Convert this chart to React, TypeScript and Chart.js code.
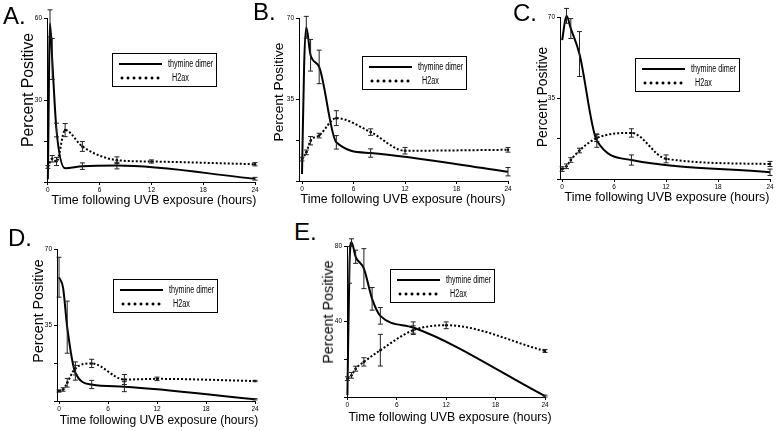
import React, { useEffect, useRef } from "react";
import { Chart, registerables } from "chart.js";

Chart.register(...registerables);

const SANS = "'Liberation Sans', Arial, Helvetica, sans-serif";

// ---------- data ----------
const xTickValues = [0, 6, 12, 18, 24];
const legendLabels = ["thymine dimer", "H2ax"];
const xAxisTitle = "Time following UVB exposure (hours)";
const yAxisTitle = "Percent Positive";

// Panel A
const timesA = [0, 0.25, 0.5, 1, 2, 4, 8, 12, 24];
const dimerA = [1, 58, 45, 19, 5, 5.8, 6, null, 1.2];
const dimerErrA = [0, 5, 7.5, 2.5, 0, 1.2, 1.2, 0, 0.5];
const h2axA = [5.5, null, 8.5, 7.5, 19, 13, 8, 7.5, 6.5];
const h2axErrA = [0.5, 0, 1.2, 1.5, 2.4, 1.8, 1.2, 0.6, 0.6];

// Panel B
const timesB = [0, 0.25, 0.5, 1, 2, 4, 8, 12, 24];
const dimerB = [3, 50, 66, 54, 49, 16.6, 12, null, 4];
const dimerErrB = [0, 0, 4.7, 6.8, 7.2, 2.9, 1.8, 0, 1.8];
const h2axB = [9.4, null, 12.3, 17.3, 19.5, 27, 21, 13, 13.4];
const h2axErrB = [0.8, 0, 1, 1.8, 1, 3.2, 1.4, 1.4, 1];

// Panel C
const timesC = [0, 0.5, 1, 2, 4, 8, 12, 24];
const dimerC = [60, 70.5, 65, 54, 16.6, 8.2, null, 2.9];
const dimerErrC = [0, 3.2, 4.3, 9.7, 2.9, 2.2, 0, 1.4];
const h2axC = [4.3, 5.5, 8.2, 12.3, 17.7, 19.9, 8.7, 6.5];
const h2axErrC = [1, 1, 1, 1, 1.5, 1.8, 1.7, 1.1];

// Panel D
const timesD = [0, 0.5, 1, 2, 4, 8, 12, 24];
const dimerD = [57, 52, 34, 13, 7.6, 6.6, null, 0.8];
const dimerErrD = [9.2, 0, 12, 3.4, 1.9, 2.3, 0, 0.3];
const h2axD = [4.6, 5.3, 8.4, 15, 17.3, 9.9, 10.2, 9.2];
const h2axErrD = [0.5, 0.8, 2, 3, 1.9, 2.3, 0.8, 0.3];

// Panel E
const timesE = [0, 0.25, 0.5, 1, 2, 3, 4, 8, 12, 24];
const dimerE = [1, 70, 82, 74.3, 68, 52, 43, 36.8, null, 0.5];
const dimerErrE = [0, 9.7, 1.8, 3.5, 10.6, 6, 4.4, 3, 0, 0.5];
const h2axE = [9.7, null, 11.5, 15, 18.6, null, 24.8, 35.4, 38, 24.4];
const h2axErrE = [1, 0, 1.5, 1.3, 2.2, 0, 8.4, 2.3, 1.8, 0.8];

// ---------- layout ----------
type PanelCfg = {
  letter: string;
  times: number[];
  dimer: (number | null)[];
  dimerErr: number[];
  h2ax: (number | null)[];
  h2axErr: number[];
  yMax: number;
  xMin: number;
  area: { l: number; t: number; r: number; b: number };
  letterPos: { x: number; y: number };
  legendPos: { x: number; y: number };
  yTitle: { cx: number; cy: number; size: number };
  xTitle: { cx: number; cy: number; size: number };
};

const panels: PanelCfg[] = [
  {
    letter: "A.", times: timesA, dimer: dimerA, dimerErr: dimerErrA, h2ax: h2axA, h2axErr: h2axErrA,
    yMax: 60, xMin: -0.1,
    area: { l: 47, t: 18, r: 255, b: 181.5 },
    letterPos: { x: 3, y: 4 }, legendPos: { x: 112, y: 53 },
    yTitle: { cx: 28, cy: 90, size: 15.8 }, xTitle: { cx: 154, cy: 200, size: 12.4 },
  },
  {
    letter: "B.", times: timesB, dimer: dimerB, dimerErr: dimerErrB, h2ax: h2axB, h2axErr: h2axErrB,
    yMax: 70, xMin: -0.35,
    area: { l: 299, t: 18, r: 508, b: 181 },
    letterPos: { x: 253, y: 0 }, legendPos: { x: 362, y: 56 },
    yTitle: { cx: 279, cy: 92, size: 13.7 }, xTitle: { cx: 403, cy: 199, size: 12.4 },
  },
  {
    letter: "C.", times: timesC, dimer: dimerC, dimerErr: dimerErrC, h2ax: h2axC, h2axErr: h2axErrC,
    yMax: 70, xMin: -0.25,
    area: { l: 560, t: 17, r: 770, b: 178.5 },
    letterPos: { x: 513, y: 1 }, legendPos: { x: 635, y: 58 },
    yTitle: { cx: 543, cy: 97, size: 13.9 }, xTitle: { cx: 667, cy: 197, size: 12.4 },
  },
  {
    letter: "D.", times: timesD, dimer: dimerD, dimerErr: dimerErrD, h2ax: h2axD, h2axErr: h2axErrD,
    yMax: 70, xMin: -0.25,
    area: { l: 57, t: 249, r: 255, b: 401 },
    letterPos: { x: 8, y: 226 }, legendPos: { x: 113, y: 279 },
    yTitle: { cx: 38, cy: 311, size: 14.3 }, xTitle: { cx: 159, cy: 420, size: 12 },
  },
  {
    letter: "E.", times: timesE, dimer: dimerE, dimerErr: dimerErrE, h2ax: h2axE, h2axErr: h2axErrE,
    yMax: 80, xMin: -0.05,
    area: { l: 347, t: 246, r: 545, b: 397 },
    letterPos: { x: 294, y: 220 }, legendPos: { x: 390, y: 269 },
    yTitle: { cx: 328, cy: 312, size: 14.3 }, xTitle: { cx: 450, cy: 417, size: 12.3 },
  },
];

const PAD_L = 30;
const PAD_T = 12;
const PAD_R = 12;
const PAD_B = 16;

const errorBarPlugin = {
  id: "errorBars",
  afterDatasetsDraw(chart: any) {
    const { ctx } = chart;
    const xs = chart.scales.x;
    const ys = chart.scales.y;
    chart.data.datasets.forEach((ds: any) => {
      const errs: number[] | undefined = ds.errorBars;
      if (!errs) return;
      ds.data.forEach((p: any, i: number) => {
        const e = errs[i];
        if (!e || p.y == null) return;
        const x = xs.getPixelForValue(p.x);
        const y1 = ys.getPixelForValue(p.y + e);
        const y2 = ys.getPixelForValue(p.y - e);
        ctx.save();
        ctx.strokeStyle = "#222";
        ctx.lineWidth = 1;
        ctx.setLineDash([]);
        ctx.beginPath();
        ctx.moveTo(x, y1);
        ctx.lineTo(x, y2);
        ctx.moveTo(x - 2.5, y1);
        ctx.lineTo(x + 2.5, y1);
        ctx.moveTo(x - 2.5, y2);
        ctx.lineTo(x + 2.5, y2);
        ctx.stroke();
        ctx.restore();
      });
    });
  },
};

function PanelChart({ cfg }: { cfg: PanelCfg }) {
  const ref = useRef<HTMLCanvasElement | null>(null);
  const cx = cfg.area.l - PAD_L;
  const cy = cfg.area.t - PAD_T;
  const cw = Math.round(cfg.area.r + PAD_R - cx);
  const ch = Math.round(cfg.area.b + PAD_B - cy);

  useEffect(() => {
    if (!ref.current) return;
    const yMax = cfg.yMax;
    const tickFont = { family: SANS, size: 6.5 };
    const chart = new Chart(ref.current, {
      type: "line",
      data: {
        datasets: [
          {
            label: legendLabels[0],
            data: cfg.times.map((t, i) => ({ x: t, y: cfg.dimer[i] })),
            errorBars: cfg.dimerErr,
            borderColor: "#000",
            backgroundColor: "#000",
            borderWidth: 2,
            pointRadius: 0,
            cubicInterpolationMode: "monotone",
            spanGaps: true,
            clip: false,
            fill: false,
          } as any,
          {
            label: legendLabels[1],
            data: cfg.times.map((t, i) => ({ x: t, y: cfg.h2ax[i] })),
            errorBars: cfg.h2axErr,
            borderColor: "#000",
            backgroundColor: "#000",
            borderWidth: 2,
            borderDash: [2, 2],
            pointRadius: 1.3,
            pointBorderWidth: 0,
            cubicInterpolationMode: "monotone",
            spanGaps: true,
            clip: false,
            fill: false,
          } as any,
        ],
      },
      options: {
        responsive: false,
        animation: false,
        events: [],
        layout: { padding: { top: PAD_T, right: PAD_R, left: 0, bottom: 0 } },
        plugins: { legend: { display: false }, tooltip: { enabled: false }, title: { display: false } },
        scales: {
          x: {
            type: "linear",
            min: cfg.xMin,
            max: 24,
            afterBuildTicks: (s: any) => {
              s.ticks = xTickValues.map((v) => ({ value: v }));
            },
            afterFit: (s: any) => {
              s.height = PAD_B;
            },
            ticks: { font: tickFont, color: "#000", padding: 1, maxRotation: 0, autoSkip: false },
            grid: { display: true, drawOnChartArea: false, drawTicks: true, tickLength: 3, color: "#000" },
            border: { display: true, color: "#000", width: 1 },
          },
          y: {
            type: "linear",
            min: 0,
            max: yMax,
            afterBuildTicks: (s: any) => {
              s.ticks = [0, yMax / 4, yMax / 2, yMax].map((v) => ({ value: v }));
            },
            afterFit: (s: any) => {
              s.width = PAD_L;
            },
            ticks: {
              font: tickFont,
              color: "#000",
              padding: 2,
              autoSkip: false,
              callback: (v: any) => (v === yMax || v === yMax / 2 ? String(v) : ""),
            },
            grid: { display: true, drawOnChartArea: false, drawTicks: true, tickLength: 3, color: "#000" },
            border: { display: true, color: "#000", width: 1 },
          },
        },
      },
      plugins: [errorBarPlugin],
    } as any);
    return () => chart.destroy();
  }, []);

  return (
    <canvas
      ref={ref}
      width={cw}
      height={ch}
      style={{ position: "absolute", left: cx, top: cy, width: cw, height: ch }}
    />
  );
}

const legendText: React.CSSProperties = {
  position: "absolute",
  fontFamily: SANS,
  fontSize: 10,
  lineHeight: "12px",
  whiteSpace: "nowrap",
  transform: "scaleX(0.72)",
  transformOrigin: "left center",
  color: "#000",
};

function Legend({ x, y }: { x: number; y: number }) {
  return (
    <div
      style={{
        position: "absolute",
        left: x,
        top: y,
        width: 105,
        height: 34,
        border: "1.5px solid #000",
        boxSizing: "border-box",
        background: "#fff",
        filter: "grayscale(100%)",
      }}
    >
      <div style={{ position: "absolute", left: 6, top: 9, width: 43, height: 0, borderTop: "2px solid #000" }} />
      <div style={{ ...legendText, left: 55, top: 4 }}>{legendLabels[0]}</div>
      <div
        style={{
          position: "absolute",
          left: 6,
          top: 22,
          width: 43,
          height: 4,
          background: "radial-gradient(circle, #000 1.2px, rgba(0,0,0,0) 1.8px) 0 0 / 6px 4px repeat-x",
        }}
      />
      <div style={{ ...legendText, left: 59, top: 18 }}>{legendLabels[1]}</div>
    </div>
  );
}

export default function App() {
  return (
    <div
      style={{
        position: "absolute",
        left: 0,
        top: 0,
        width: 777,
        height: 431,
        background: "#fff",
        overflow: "hidden",
        fontFamily: SANS,
        color: "#000",
      }}
    >
      {panels.map((p) => (
        <PanelChart key={p.letter} cfg={p} />
      ))}
      {panels.map((p) => (
        <React.Fragment key={p.letter + "t"}>
          <div
            style={{
              position: "absolute",
              left: p.letterPos.x,
              top: p.letterPos.y,
              fontSize: 24,
              lineHeight: "24px",
              fontFamily: SANS,
            }}
          >
            {p.letter}
          </div>
          <Legend x={p.legendPos.x} y={p.legendPos.y} />
          <div
            style={{
              position: "absolute",
              left: p.yTitle.cx,
              top: p.yTitle.cy,
              transform: "translate(-50%, -50%) rotate(-90deg)",
              fontSize: p.yTitle.size,
              lineHeight: 1,
              whiteSpace: "nowrap",
            }}
          >
            {yAxisTitle}
          </div>
          <div
            style={{
              position: "absolute",
              left: p.xTitle.cx,
              top: p.xTitle.cy,
              transform: "translate(-50%, -50%)",
              fontSize: p.xTitle.size,
              lineHeight: 1,
              whiteSpace: "nowrap",
            }}
          >
            {xAxisTitle}
          </div>
        </React.Fragment>
      ))}
    </div>
  );
}
